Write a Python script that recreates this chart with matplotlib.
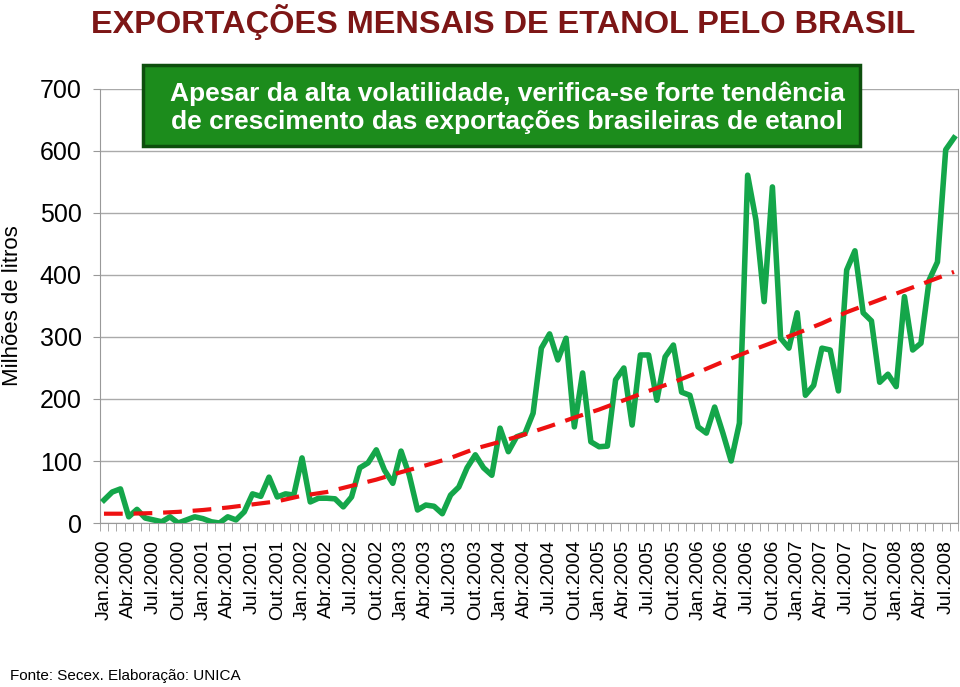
import numpy as np
import matplotlib
matplotlib.use("Agg")
import matplotlib.pyplot as plt
from matplotlib.patches import FancyBboxPatch

plt.rcParams['font.family'] = ['Liberation Sans', 'DejaVu Sans']

# exportações mensais (milhões de litros), jan/2000 .. ago/2008
exports = [37, 50, 55, 10, 22, 8, 5, 2, 10, 0, 5, 10,
           7, 2, 0, 10, 5, 18, 47, 43, 74, 42, 47, 45,
           105, 34, 40, 40, 39, 26, 42, 89, 97, 118, 85, 64,
           116, 77, 21, 29, 27, 15, 45, 58, 89, 110, 89, 77,
           153, 115, 139, 144, 177, 282, 305, 263, 298, 155, 242, 131,
           123, 124, 231, 250, 158, 271, 271, 198, 268, 287, 211, 206,
           155, 145, 187, 145, 100, 161, 561, 489, 357, 542, 298, 282,
           339, 206, 222, 282, 279, 213, 408, 439, 339, 326, 227, 240,
           220, 365, 279, 290, 392, 421, 602, 621]
# linha de tendência (a cada trimestre)
trend_months = list(range(0, 103, 3)) + [103]
trend_values = [15, 15, 16, 18, 21, 25, 30, 35, 44, 50, 60, 70,
                82, 93, 105, 120, 131, 143, 156, 170, 183, 198, 213, 227,
                243, 260, 276, 291, 306, 322, 340, 355, 370, 385, 400, 405]
months = ['Jan.', 'Abr.', 'Jul.', 'Out.']
years = list(range(2000, 2009))
tick_labels = [m + str(y) for y in years for m in months][:35]
yticks = [0, 100, 200, 300, 400, 500, 600, 700]

idx = np.arange(len(exports))

fig = plt.figure(figsize=(9.6, 6.87), dpi=100)
ax = fig.add_axes([0.104, 0.2387, 0.894, 0.6318])

ax.plot(idx, exports, color='#14a64a', lw=4.0, zorder=3)
ax.plot(trend_months, trend_values, color='#ee1111', lw=3.0, ls=(0, (4.5, 2.6)), zorder=4)

ax.set_xlim(-0.5, len(exports) - 0.5)
ax.set_ylim(0, 700)
ax.set_yticks(yticks)
ax.set_yticklabels([str(v) for v in yticks], fontsize=18)
ax.set_xticks(idx[::3])
ax.set_xticklabels(tick_labels, rotation=90, fontsize=14)
ax.set_xticks(np.arange(-0.5, len(exports), 1), minor=True)
ax.tick_params(axis='x', which='major', length=0, pad=12)
ax.tick_params(axis='x', which='minor', length=6, color='#999999', direction='out')
ax.tick_params(axis='y', length=5, color='#999999', pad=8)
ax.grid(axis='y', color='#aaaaaa', lw=1.0)
ax.set_axisbelow(True)
for s in ['left', 'bottom', 'right']:
    ax.spines[s].set_color('#999999')
ax.spines['top'].set_visible(False)
ax.set_ylabel('Milhões de litros', fontsize=16)
ax.yaxis.set_label_coords(-0.089, 0.5)

fig.text(503 / 960, 0.968, 'EXPORTAÇÕES MENSAIS DE ETANOL PELO BRASIL', ha='center', va='center',
         fontsize=23.4, fontweight='bold', color='#7d1616')

box = FancyBboxPatch((143 / 960, 1 - 146 / 687), 717 / 960, 81 / 687,
                     boxstyle='square,pad=0', transform=fig.transFigure,
                     facecolor='#1c8c1c', edgecolor='#0d4f0d', lw=2.5, zorder=10)
fig.patches.append(box)
fig.text(507 / 960, 1 - 108 / 687,
         'Apesar da alta volatilidade, verifica-se forte tendência\n'
         'de crescimento das exportações brasileiras de etanol',
         ha='center', va='center', fontsize=19, fontweight='bold', color='white',
         linespacing=1.2, zorder=11)

fig.text(10 / 960, 1 - 676 / 687, 'Fonte: Secex. Elaboração: UNICA', ha='left', va='center',
         fontsize=11)

fig.savefig('out.png', dpi=100)
